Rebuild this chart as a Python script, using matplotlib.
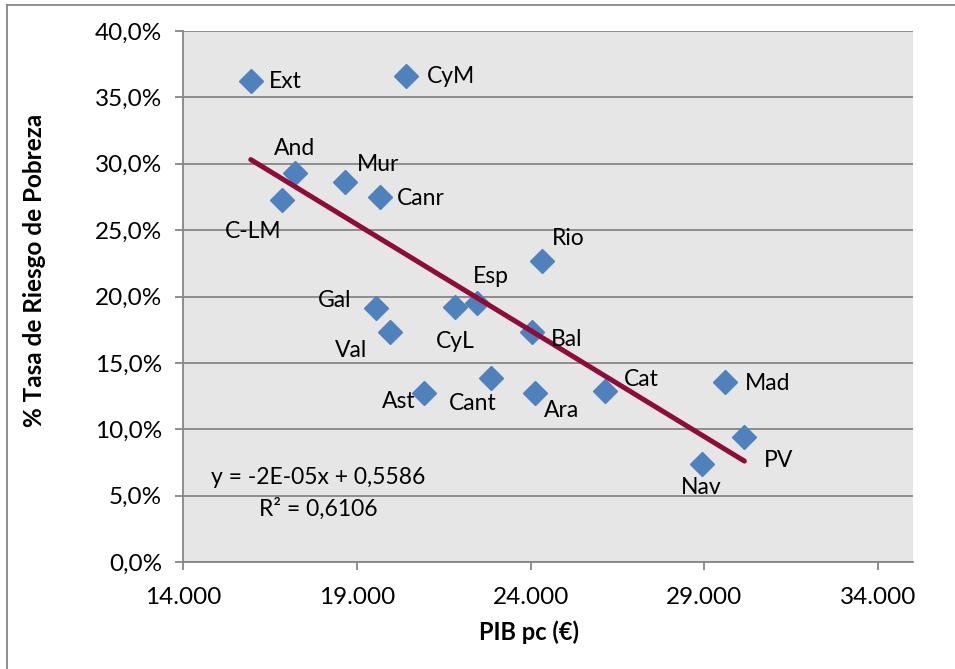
import matplotlib
matplotlib.use("Agg")
import matplotlib.pyplot as plt
from matplotlib.ticker import FuncFormatter, MultipleLocator, FixedLocator
from matplotlib.lines import Line2D
import numpy as np

plt.rcParams['font.family'] = ['Lato', 'DejaVu Sans']

regions = ["Ext", "CyM", "And", "C-LM", "Mur", "Canr", "Rio", "Gal", "Val", "CyL",
           "Esp", "Bal", "Ast", "Cant", "Ara", "Cat", "Mad", "PV", "Nav"]
pib = [15950, 20410, 17220, 16850, 18650, 19660, 24320, 19550, 19950, 21820,
       22450, 24030, 20930, 22850, 24140, 26130, 29600, 30150, 28920]
pobreza = [0.362, 0.366, 0.293, 0.273, 0.286, 0.275, 0.227, 0.191, 0.173, 0.192,
           0.195, 0.173, 0.1275, 0.1385, 0.127, 0.129, 0.1355, 0.094, 0.074]
x_ticks = [14000, 19000, 24000, 29000, 34000]
# label offsets (points) and alignment
label_pos = {
    "Ext": (13, 0, "left", "center"),
    "CyM": (15, 0, "left", "center"),
    "And": (0, 18, "center", "center"),
    "C-LM": (-21, -23, "center", "center"),
    "Mur": (9, 13, "left", "center"),
    "Canr": (12, -1, "left", "center"),
    "Rio": (7, 16, "left", "center"),
    "Gal": (-18, 6, "right", "center"),
    "Val": (-16, -13, "right", "center"),
    "CyL": (0, -25, "center", "center"),
    "Esp": (10, 19, "center", "center"),
    "Bal": (14, -5, "left", "center"),
    "Ast": (-6, -6, "right", "center"),
    "Cant": (-13, -18, "center", "center"),
    "Ara": (6, -12, "left", "center"),
    "Cat": (14, 8, "left", "center"),
    "Mad": (14, -1, "left", "center"),
    "PV": (14, -17, "left", "center"),
    "Nav": (0, -17, "center", "center"),
}

fig = plt.figure(figsize=(9.55, 6.69), dpi=100)
ax = fig.add_axes([183/955, 1-562/669, (913-183)/955, (562-31)/669])
ax.set_facecolor("#E6E6E6")

ax.set_xlim(14000, 35000)
ax.set_ylim(0, 0.40)
ax.xaxis.set_major_locator(FixedLocator(x_ticks))
ax.yaxis.set_major_locator(MultipleLocator(0.05))
ax.xaxis.set_major_formatter(FuncFormatter(lambda v, p: f"{v:,.0f}".replace(",", ".")))
ax.yaxis.set_major_formatter(FuncFormatter(lambda v, p: f"{v*100:.1f}%".replace(".", ",")))

ax.grid(axis='y', color="#868686", linewidth=1.3)
ax.set_axisbelow(True)
for s in ["top", "right"]:
    ax.spines[s].set_visible(False)
for s in ["left", "bottom"]:
    ax.spines[s].set_color("#868686")
    ax.spines[s].set_linewidth(1.3)
ax.tick_params(axis='both', direction='out', length=6, width=1.3, color="#868686",
               labelsize=17.5)
ax.tick_params(axis='y', pad=9)
ax.tick_params(axis='x', pad=12)

ax.plot(pib, pobreza, linestyle='none', marker='D', markersize=12.5,
        color="#4F81BD", zorder=3)

coef = np.polyfit(pib, pobreza, 1)
xs = np.array([min(pib), max(pib)])
ax.plot(xs, np.polyval(coef, xs), color="#8E0B3A", linewidth=3.6,
        solid_capstyle='round', zorder=4)

for r, x, y in zip(regions, pib, pobreza):
    dx, dy, ha, va = label_pos[r]
    ax.annotate(r, (x, y), xytext=(dx, dy), textcoords='offset points',
                ha=ha, va=va, fontsize=16.5, color="black", zorder=5)

ax.text(318/955, 1-477/669, "y = -2E-05x + 0,5586", transform=fig.transFigure,
        ha='center', va='center', fontsize=16.5)
ax.text(318/955, 1-509/669, "R² = 0,6106", transform=fig.transFigure,
        ha='center', va='center', fontsize=16.5)

ax.set_xlabel("PIB pc (€)", fontsize=17, fontweight='bold')
ax.set_ylabel("% Tasa de Riesgo de Pobreza", fontsize=17.5, fontweight='bold')
ax.xaxis.set_label_coords((529-183)/730, (562-632)/531)
ax.yaxis.set_label_coords((35-183)/730, (562-270)/531)
ax.xaxis.label.set_va('center')
ax.yaxis.label.set_va('center')

fig.add_artist(Line2D([7/955, 7/955], [0, 1-5/669], transform=fig.transFigure,
                      color="#868686", linewidth=1.3))
fig.add_artist(Line2D([7/955, 1], [1-5/669, 1-5/669], transform=fig.transFigure,
                      color="#868686", linewidth=1.3))

fig.savefig("out.png", dpi=100)
